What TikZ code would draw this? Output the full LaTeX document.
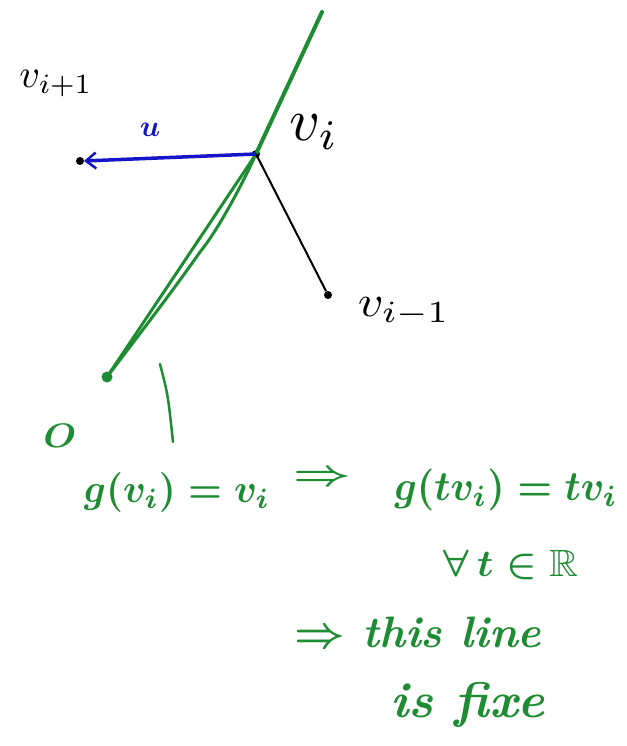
\documentclass[tikz,border=0pt]{standalone}
\usepackage{amssymb}
\usepackage{graphicx}
\usetikzlibrary{arrows.meta}
\definecolor{pgreen}{RGB}{30,140,50}
\definecolor{pblue}{RGB}{20,20,200}
\begin{document}
\begin{tikzpicture}[x=1pt,y=-1pt,
  dot/.style={circle,fill=black,inner sep=0pt,minimum size=8pt},
  gtext/.style={text=pgreen,inner sep=0pt,font=\boldmath\bfseries},
  btext/.style={text=black,inner sep=0pt},
  gline/.style={draw=pgreen,line width=3pt,line cap=round}]
\useasboundingbox[fill=white] (0,0) rectangle (626,746);
% points
\node[dot] (vi) at (256,154) {};
\node[dot] (vip) at (80,161) {};
\node[dot] (vim) at (328,295) {};
\node[circle,fill=pgreen,inner sep=0pt,minimum size=11pt] (O) at (107,377) {};
\coordinate (top) at (322,12);
% green fixed line
\draw[gline,line width=4pt] (top) -- (vi.center);
\draw[gline] (vi.center) -- (O.center);
\draw[gline] (vi.center) .. controls (242,185) and (218,230) .. (200,252) .. controls (172,292) and (135,340) .. (O.center);
% black segment
\draw[line width=2pt] (vi.center) -- (vim);
% blue arrow
\draw[draw=pblue,line width=3.5pt,-{Straight Barb[length=10pt,width=16pt,line width=2.5pt]}] (vi.center) -- ([xshift=4pt]vip.center);
\node[text=pblue,inner sep=0pt,font=\boldmath] (u) at (150,130) {\scalebox{3}{$u$}};
% labels
\node[btext] (Lvip) at (56,84) {\scalebox{4}{$v_{i+1}$}};
\node[btext] (Lvi) at (314,132) {\scalebox{6}{$v_i$}};
\node[btext] (Lvim) at (404,312) {\scalebox{5}[4.4]{$v_{i-1}$}};
% green annotations
\node[gtext] (Ol) at (60,436) {\scalebox{3.8}[3.4]{$O$}};
\coordinate (tk1) at (160,364);
\coordinate (tk2) at (173,442);
\draw[draw=pgreen,line width=2.5pt,line cap=round] (tk1) .. controls (168,395) .. (tk2);
\node[gtext] (eq1) at (177,492) {\scalebox{3.8}[4]{$g(v_i)=v_i$}};
\node[gtext] (imp1) at (322,478) {\scalebox{5}[3.6]{$\Rightarrow$}};
\node[gtext] (eq2) at (506,490) {\scalebox{3.9}[4.2]{$g(tv_i)=tv_i$}};
\node[gtext] (fa) at (511,565) {\scalebox{4}[3.8]{$\forall\, t\in\mathbb{R}$}};
\node[gtext] (imp2) at (418,632) {\scalebox{4.4}[4.4]{$\Rightarrow$ \textit{this line}}};
\node[gtext] (fixe) at (468,705) {\scalebox{5.1}[5]{\textit{is fixe}}};
\end{tikzpicture}
\end{document}
